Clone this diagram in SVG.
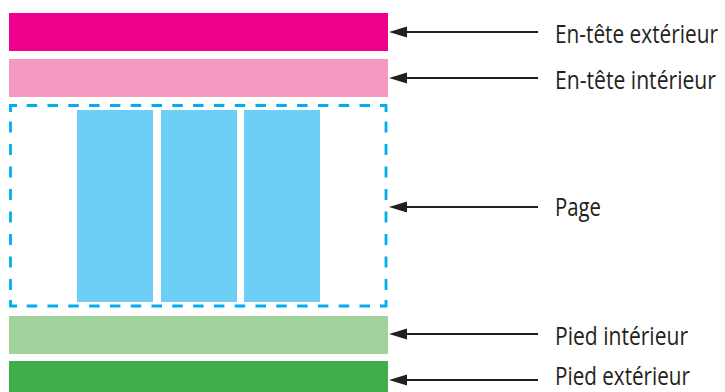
<svg xmlns="http://www.w3.org/2000/svg" width="725" height="392" viewBox="0 0 725 392">
<style>
.lbl{font-family:"Open Sans","Noto Sans",sans-serif;font-size:25px;fill:#231F20}
.ar{stroke:#231F20;stroke-width:2.2;fill:none}
.hd{fill:#231F20}
.col{fill:#6DCFF6}
.dh{stroke:#00AEEF;stroke-width:2.8;fill:none;stroke-dasharray:10.5 10.3}
.dv{stroke:#00AEEF;stroke-width:2.8;fill:none;stroke-dasharray:11 11.5}
.cn{stroke:#00AEEF;stroke-width:2.8;fill:none}
</style>
<rect width="725" height="392" fill="#fff"/>
<g id="outer-header"><rect x="9" y="13" width="379" height="38" fill="#EC008C"/></g>
<g id="inner-header"><rect x="9" y="59" width="379" height="38" fill="#F49AC1"/></g>
<g id="page">
<rect class="col" x="77" y="110" width="76" height="192"/>
<rect class="col" x="161" y="110" width="76" height="192"/>
<rect class="col" x="244" y="110" width="76" height="192"/>
<line class="dh" x1="26.7" y1="105.5" x2="375" y2="105.5"/>
<line class="dh" x1="26.7" y1="306" x2="375" y2="306"/>
<line class="dv" x1="10.5" y1="121.5" x2="10.5" y2="292"/>
<line class="dv" x1="386" y1="121.5" x2="386" y2="292"/>
<path class="cn" d="M10.5,112 V105.5 H17"/>
<path class="cn" d="M380,105.5 H386 V112"/>
<path class="cn" d="M10.5,300 V306 H17"/>
<path class="cn" d="M380,306 H386 V300"/>
</g>
<g id="inner-footer"><rect x="9" y="316" width="379" height="38" fill="#A3D39C"/></g>
<g id="outer-footer"><rect x="9" y="361" width="379" height="31" fill="#40AE49"/></g>
<g id="connectors">
<line class="ar" x1="404" y1="32" x2="538" y2="32"/><polygon class="hd" points="389,32 407,26.5 407,37.5"/>
<line class="ar" x1="404" y1="78" x2="538" y2="78"/><polygon class="hd" points="389,78 407,72.5 407,83.5"/>
<line class="ar" x1="404" y1="207" x2="538" y2="207"/><polygon class="hd" points="389,207 407,201.5 407,212.5"/>
<line class="ar" x1="404" y1="334" x2="538" y2="334"/><polygon class="hd" points="389,334 407,328.5 407,339.5"/>
<line class="ar" x1="404" y1="380" x2="538" y2="380"/><polygon class="hd" points="389,380 407,374.5 407,385.5"/>
</g>
<g id="labels">
<g transform="translate(555,42.5) scale(0.82,1)"><text class="lbl" x="0" y="0" textLength="198.8" lengthAdjust="spacingAndGlyphs">En-tête extérieur</text></g>
<g transform="translate(555,88.5) scale(0.82,1)"><text class="lbl" x="0" y="0" textLength="196.3" lengthAdjust="spacingAndGlyphs">En-tête intérieur</text></g>
<g transform="translate(555,216) scale(0.82,1)"><text class="lbl" x="0" y="0" textLength="56.1" lengthAdjust="spacingAndGlyphs">Page</text></g>
<g transform="translate(555,345) scale(0.82,1)"><text class="lbl" x="0" y="0" textLength="162.2" lengthAdjust="spacingAndGlyphs">Pied intérieur</text></g>
<g transform="translate(555,385) scale(0.82,1)"><text class="lbl" x="0" y="0" textLength="164.6" lengthAdjust="spacingAndGlyphs">Pied extérieur</text></g>
</g>
</svg>
